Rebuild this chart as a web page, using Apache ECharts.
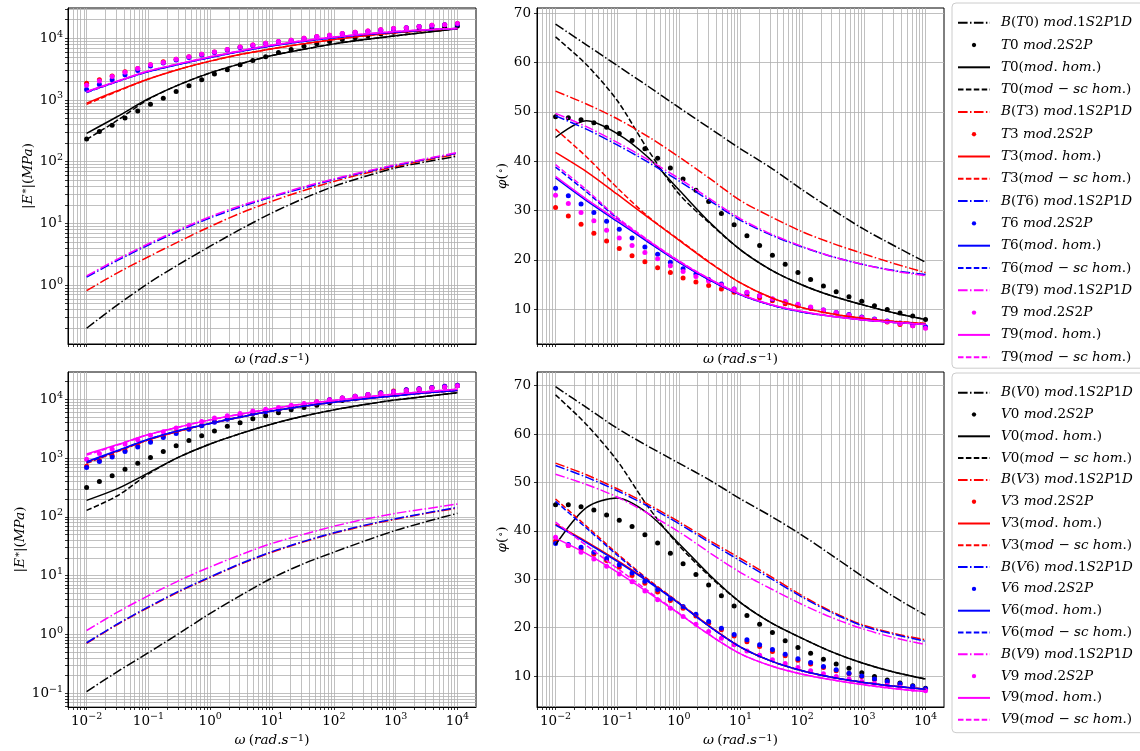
<!DOCTYPE html>
<html><head><meta charset="utf-8">
<script src="https://cdn.jsdelivr.net/npm/echarts@6/dist/echarts.min.js"></script>
<style>html,body{margin:0;padding:0;background:#fff}#c{width:1140px;height:751px}</style>
</head><body><div id="c"></div>
<script>
// angular frequencies (rad/s)
const W = [0.01, 0.0161, 0.0259, 0.0418, 0.0672, 0.108, 0.174, 0.281, 0.452, 0.728, 1.17, 1.89, 3.04, 4.89, 7.88, 12.7, 20.4, 32.9, 53.0, 85.3, 137, 221, 356, 574, 924, 1487, 2395, 3857, 6210, 10000];
const WL = [0.01, 0.0316, 0.1, 0.316, 1, 3.16, 10, 31.6, 100, 316, 1000, 3162, 10000];
const xLabelVals = [0.01, 0.1, 1, 10, 100, 1000, 10000];
const yLabelValsTop = [1, 10, 100, 1000, 10000];
const yLabelValsBot = [0.1, 1, 10, 100, 1000, 10000];
const phiLabelVals = [10, 20, 30, 40, 50, 60, 70];

// ---- top-left |E*| (T) ----
const tlB0 = [0.200, 0.479, 1.07, 2.19, 4.27, 8.13, 14.8, 25.1, 39.8, 57.5, 79.4, 100, 123];
const tlD0 = [234, 309, 389, 513, 661, 851, 1072, 1380, 1698, 2138, 2630, 3090, 3715, 4365, 5012, 5888, 6607, 7413, 8128, 8913, 9550, 10233, 10965, 11749, 12589, 13183, 13804, 14454, 15136, 15849];
const tlH0 = [288, 540, 1047, 1778, 2754, 3890, 5248, 6607, 8128, 9550, 10965, 12589, 14300];
const tlS0 = [229, 470, 1023, 1778, 2754, 3890, 5248, 6607, 8128, 9550, 10965, 12589, 14300];
const tlB3 = [0.813, 1.58, 2.88, 5.13, 8.91, 14.8, 22.9, 33.9, 47.9, 64.6, 83.2, 107, 132];
const tlD3 = [1862, 2138, 2455, 2884, 3236, 3715, 4169, 4571, 5012, 5495, 6026, 6607, 7244, 7762, 8318, 8913, 9333, 10000, 10715, 11220, 12023, 12589, 13183, 13804, 14454, 14791, 15488, 16218, 16596, 17378];
const tlH3 = [891, 1413, 2188, 3162, 4266, 5495, 6761, 8128, 9550, 10965, 12303, 13490, 14454];
const tlS3 = [851, 1380, 2188, 3162, 4266, 5495, 6761, 8128, 9550, 10965, 12303, 13490, 14454];
const tlB6 = [1.35, 2.51, 4.47, 7.59, 12.3, 18.6, 26.9, 37.2, 51.3, 67.6, 87.1, 110, 138];
const tlD6 = [1479, 1778, 2138, 2570, 3020, 3548, 3981, 4467, 4898, 5370, 5888, 6457, 7079, 7586, 8128, 8710, 9120, 9772, 10471, 10965, 11749, 12303, 12882, 13490, 14125, 14791, 15488, 15849, 16596, 16982];
const tlH6 = [1349, 1995, 2884, 3802, 4898, 6166, 7586, 8913, 10233, 11482, 12589, 13646, 14454];
const tlS6 = [1318, 1995, 2884, 3802, 4898, 6166, 7586, 8913, 10233, 11482, 12589, 13646, 14454];
const tlB9 = [1.41, 2.63, 4.68, 7.94, 12.9, 19.5, 27.5, 38.9, 52.5, 69.2, 89.1, 112, 141];
const tlD9 = [1738, 2042, 2399, 2818, 3236, 3715, 4074, 4571, 5012, 5495, 6026, 6607, 7244, 7762, 8318, 8913, 9333, 10000, 10715, 11220, 12023, 12589, 13183, 13804, 14454, 14791, 15488, 16218, 16596, 17378];
const tlH9 = [1380, 2042, 2951, 3890, 5012, 6310, 7762, 9120, 10471, 11749, 12882, 13804, 14454];
const tlS9 = [1349, 1995, 2951, 3890, 5012, 6310, 7762, 9120, 10471, 11749, 12882, 13804, 14454];

// ---- top-right phase (T) ----
const trB0 = [67.8, 63.6, 59.4, 55.2, 50.9, 46.7, 42.5, 38.6, 34.2, 30.1, 26.2, 22.8, 19.5];
const trD0 = [49.0, 48.8, 48.4, 47.8, 46.9, 45.6, 44.2, 42.5, 40.6, 38.6, 36.4, 34.1, 31.8, 29.4, 27.1, 24.9, 22.9, 20.9, 19.1, 17.4, 16.0, 14.7, 13.5, 12.5, 11.6, 10.7, 9.9, 9.2, 8.6, 7.9];
const trH0 = [44.8, 48.2, 45.6, 40.8, 34.2, 27.6, 22.0, 17.9, 14.9, 12.6, 10.8, 9.2, 7.9];
const trS0 = [65.2, 59.6, 52.3, 42.3, 33.4, 27.4, 22.0, 17.9, 14.9, 12.6, 10.8, 9.2, 7.9];
const trB3 = [54.2, 51.6, 48.6, 45.0, 40.9, 36.5, 32.0, 28.7, 25.7, 23.3, 21.2, 19.2, 17.4];
const trD3 = [30.6, 28.9, 27.2, 25.4, 23.8, 22.3, 20.8, 19.6, 18.4, 17.4, 16.3, 15.5, 14.8, 14.1, 13.4, 12.8, 12.3, 11.7, 11.1, 10.7, 10.1, 9.6, 9.2, 8.8, 8.3, 7.9, 7.4, 6.9, 6.6, 6.2];
const trH3 = [41.8, 37.9, 33.3, 28.6, 24.0, 19.4, 15.3, 12.3, 10.3, 9.0, 8.1, 7.5, 7.1];
const trS3 = [46.5, 40.9, 34.6, 28.8, 24.1, 19.5, 15.3, 12.3, 10.3, 9.0, 8.1, 7.5, 7.1];
const trB6 = [49.2, 46.5, 43.3, 39.8, 36.0, 32.0, 28.0, 25.0, 22.6, 20.6, 19.0, 17.8, 17.0];
const trD6 = [34.5, 33.0, 31.3, 29.6, 27.8, 26.2, 24.4, 22.6, 21.1, 19.5, 18.2, 17.1, 16.0, 15.1, 14.1, 13.3, 12.7, 12.0, 11.5, 10.9, 10.3, 9.8, 9.3, 8.9, 8.4, 8.0, 7.6, 7.2, 6.9, 6.4];
const trH6 = [36.6, 32.0, 27.8, 23.6, 19.5, 15.9, 12.9, 10.8, 9.4, 8.5, 7.8, 7.3, 6.9];
const trS6 = [38.8, 33.8, 28.4, 23.7, 19.6, 15.9, 12.9, 10.8, 9.4, 8.5, 7.8, 7.3, 6.9];
const trB9 = [49.7, 47.0, 43.8, 40.3, 36.5, 32.4, 28.3, 25.2, 22.7, 20.6, 19.0, 17.7, 16.8];
const trD9 = [33.1, 31.4, 29.6, 27.9, 26.0, 24.4, 22.9, 21.5, 20.2, 18.8, 17.6, 16.6, 15.7, 14.9, 14.1, 13.4, 12.7, 12.1, 11.5, 11.0, 10.4, 9.8, 9.3, 8.8, 8.3, 7.9, 7.5, 7.1, 6.6, 6.1];
const trH9 = [36.9, 32.3, 28.1, 23.9, 19.7, 16.1, 13.0, 10.9, 9.5, 8.5, 7.8, 7.3, 6.9];
const trS9 = [39.3, 34.2, 28.6, 24.0, 19.8, 16.1, 13.0, 10.9, 9.5, 8.5, 7.8, 7.3, 6.9];

// ---- bottom-left |E*| (V) ----
const blB0 = [0.107, 0.234, 0.490, 1.05, 2.29, 4.68, 9.12, 15.8, 25.1, 38.9, 58.9, 83.2, 115];
const blD0 = [316, 398, 501, 646, 813, 1023, 1288, 1622, 1995, 2399, 2884, 3467, 3981, 4677, 5248, 5888, 6607, 7244, 7943, 8710, 9550, 10233, 11220, 11749, 12589, 13490, 14454, 15488, 16218, 16982];
const blH0 = [191, 302, 562, 1047, 1738, 2630, 3802, 5129, 6607, 8128, 9772, 11220, 12882];
const blS0 = [129, 229, 537, 1047, 1738, 2630, 3802, 5129, 6607, 8128, 9772, 11220, 12882];
const blB3 = [0.708, 1.48, 2.88, 5.37, 9.33, 15.8, 25.1, 37.2, 52.5, 70.8, 91.2, 115, 141];
const blD3 = [724, 912, 1096, 1349, 1622, 1950, 2344, 2754, 3162, 3631, 4169, 4677, 5248, 5754, 6310, 6918, 7586, 8318, 9120, 9772, 10471, 11220, 12023, 12882, 13804, 14454, 15136, 15849, 16596, 17378];
const blH3 = [851, 1318, 2042, 2884, 3890, 5012, 6310, 7586, 8913, 10233, 11482, 12882, 14125];
const blS3 = [813, 1288, 2042, 2884, 3890, 5012, 6310, 7586, 8913, 10233, 11482, 12882, 14125];
const blB6 = [0.724, 1.51, 2.95, 5.50, 9.55, 16.2, 25.7, 38.0, 53.7, 72.4, 93.3, 117, 145];
const blD6 = [692, 871, 1047, 1288, 1549, 1862, 2239, 2630, 3090, 3548, 4074, 4571, 5248, 5754, 6166, 6761, 7413, 8128, 8913, 9772, 10471, 11220, 12023, 12882, 13490, 14454, 15136, 15849, 16596, 17378];
const blH6 = [871, 1349, 2089, 2951, 3890, 5012, 6310, 7586, 8913, 10233, 11482, 12882, 14125];
const blS6 = [832, 1318, 2089, 2951, 3890, 5012, 6310, 7586, 8913, 10233, 11482, 12882, 14125];
const blB9 = [1.17, 2.40, 4.57, 8.32, 14.1, 22.9, 35.5, 50.1, 69.2, 91.2, 115, 138, 166];
const blD9 = [955, 1202, 1413, 1738, 2042, 2455, 2818, 3236, 3631, 4169, 4786, 5248, 5754, 6310, 6761, 7244, 7943, 8511, 9120, 9772, 10471, 11220, 12023, 12589, 13490, 14125, 14791, 15488, 16218, 16982];
const blH9 = [1175, 1698, 2512, 3388, 4467, 5623, 6918, 8318, 9550, 10965, 12303, 13490, 14791];
const blS9 = [1122, 1660, 2512, 3388, 4467, 5623, 6918, 8318, 9550, 10965, 12303, 13490, 14791];

// ---- bottom-right phase (V) ----
const brB0 = [69.8, 65.5, 61.2, 57.5, 54.0, 50.5, 46.6, 43.0, 39.1, 34.8, 30.4, 26.3, 22.6];
const brD0 = [45.4, 45.4, 45.0, 44.3, 43.3, 42.2, 40.9, 39.2, 37.5, 35.4, 33.2, 31.0, 28.8, 26.6, 24.5, 22.5, 20.7, 19.0, 17.3, 15.9, 14.7, 13.5, 12.5, 11.6, 10.7, 9.9, 9.2, 8.6, 8.0, 7.5];
const brH0 = [37.1, 44.8, 46.8, 43.6, 37.4, 30.9, 25.2, 21.0, 17.8, 14.9, 12.6, 10.8, 9.4];
const brS0 = [68.1, 62.0, 54.5, 45.0, 37.0, 30.6, 25.2, 21.0, 17.8, 14.9, 12.6, 10.8, 9.4];
const brB3 = [54.0, 51.6, 48.7, 45.5, 41.9, 38.0, 34.3, 30.5, 26.6, 23.2, 20.5, 18.8, 17.5];
const brD3 = [37.9, 37.0, 36.2, 35.2, 33.9, 32.5, 30.8, 29.2, 27.4, 25.6, 24.0, 22.4, 20.9, 19.6, 18.3, 17.1, 16.1, 15.1, 14.2, 13.3, 12.5, 11.8, 11.1, 10.5, 9.9, 9.3, 8.8, 8.3, 7.8, 7.3];
const brH3 = [41.4, 37.8, 33.9, 29.7, 25.1, 20.3, 16.0, 13.1, 11.1, 9.7, 8.7, 7.9, 7.3];
const brS3 = [46.6, 41.0, 35.3, 30.0, 25.2, 20.3, 16.0, 13.1, 11.1, 9.7, 8.7, 7.9, 7.3];
const brB6 = [53.5, 51.1, 48.3, 45.1, 41.5, 37.6, 33.8, 30.1, 26.3, 23.0, 20.3, 18.6, 17.2];
const brD6 = [37.4, 37.2, 36.6, 35.6, 34.3, 33.0, 31.3, 29.6, 27.9, 26.0, 24.4, 22.8, 21.3, 19.9, 18.6, 17.5, 16.5, 15.5, 14.5, 13.6, 12.8, 12.0, 11.3, 10.6, 10.0, 9.4, 8.9, 8.4, 7.9, 7.4];
const brH6 = [41.2, 37.6, 33.7, 29.5, 25.0, 20.2, 16.0, 13.1, 11.1, 9.7, 8.7, 7.9, 7.3];
const brS6 = [46.1, 40.6, 35.0, 29.8, 25.1, 20.2, 16.0, 13.1, 11.1, 9.7, 8.7, 7.9, 7.3];
const brB9 = [51.7, 49.6, 47.0, 43.6, 39.8, 35.5, 31.4, 28.0, 24.8, 22.0, 19.7, 17.9, 16.5];
const brD9 = [38.7, 37.0, 35.6, 34.2, 32.7, 31.1, 29.5, 27.6, 25.8, 24.0, 22.3, 20.7, 19.2, 17.8, 16.5, 15.2, 14.3, 13.4, 12.6, 11.8, 11.1, 10.5, 9.9, 9.4, 8.9, 8.5, 8.1, 7.7, 7.3, 7.0];
const brH9 = [38.5, 35.3, 31.5, 27.3, 22.9, 18.5, 14.6, 12.1, 10.4, 9.2, 8.2, 7.4, 6.8];
const brS9 = [41.8, 37.0, 32.3, 27.6, 23.0, 18.5, 14.6, 12.1, 10.4, 9.2, 8.2, 7.4, 6.8];

const mats = ['0', '3', '6', '9'];
const colors = ['#000000', '#ff0000', '#0000ff', '#ff00ff'];

const panels = [
  {p: 'T', B: [tlB0, tlB3, tlB6, tlB9], D: [tlD0, tlD3, tlD6, tlD9], H: [tlH0, tlH3, tlH6, tlH9], S: [tlS0, tlS3, tlS6, tlS9]},
  {p: 'T', B: [trB0, trB3, trB6, trB9], D: [trD0, trD3, trD6, trD9], H: [trH0, trH3, trH6, trH9], S: [trS0, trS3, trS6, trS9]},
  {p: 'V', B: [blB0, blB3, blB6, blB9], D: [blD0, blD3, blD6, blD9], H: [blH0, blH3, blH6, blH9], S: [blS0, blS3, blS6, blS9]},
  {p: 'V', B: [brB0, brB3, brB6, brB9], D: [brD0, brD3, brD6, brD9], H: [brH0, brH3, brH6, brH9], S: [brS0, brS3, brS6, brS9]}
];

const SERIF = 'DejaVu Serif';
const DASH = [5.5, 2.4];
const DASHDOT = [9.6, 2.4, 1.5, 2.4];
const dotIcon = 'path://M0,0L0,0M32,14L32,14M18.2,7L17.6,8.6L16,9.2L14.4,8.6L13.8,7L14.4,5.4L16,4.8L17.6,5.4Z';

const names = (p, m) => ({
  B: 'B(' + p + m + ') mod.1S2P1D',
  D: p + m + ' mod.2S2P',
  H: p + m + '(mod. hom.)',
  S: p + m + '(mod \u2212 sc hom.)'
});

function pairs(xs, ys) { return ys.map((y, i) => [xs[i], y]); }

const series = [];
panels.forEach((pn, gi) => {
  mats.forEach((m, k) => {
    const nm = names(pn.p, m), c = colors[k];
    const ln = (name, ys, type) => ({
      type: 'line', name, xAxisIndex: gi, yAxisIndex: gi, data: pairs(WL, ys),
      symbol: 'none', smooth: 0.3, silent: true, animation: false,
      lineStyle: {color: c, width: 1.5, type: type}, itemStyle: {color: c}
    });
    series.push(ln(nm.B, pn.B[k], DASHDOT));
    series.push({
      type: 'scatter', name: nm.D, xAxisIndex: gi, yAxisIndex: gi, data: pairs(W, pn.D[k]),
      symbol: 'circle', symbolSize: 5, silent: true, animation: false, itemStyle: {color: c, opacity: 1}
    });
    series.push(ln(nm.H, pn.H[k], 'solid'));
    series.push(ln(nm.S, pn.S[k], DASH));
  });
});

const hideSym = {opacity: 0, color: 'rgba(0,0,0,0)', borderWidth: 0};
function legendData(p) {
  const out = [];
  mats.forEach(m => {
    const nm = names(p, m);
    out.push({name: nm.B, itemStyle: hideSym}, {name: nm.D, icon: dotIcon},
             {name: nm.H, itemStyle: hideSym}, {name: nm.S, itemStyle: hideSym});
  });
  return out;
}

function toRich(s) {
  return s.replace(/([A-Za-z]+)|([^A-Za-z]+)/g, (a, l, o) => l ? '{i|' + l + '}' : '{r|' + o + '}');
}

const rich = {
  i: {fontFamily: SERIF, fontStyle: 'italic', fontSize: 13.5, color: '#000'},
  r: {fontFamily: SERIF, fontSize: 13.5, color: '#000'},
  s: {fontFamily: SERIF, fontSize: 10, color: '#000', verticalAlign: 'top', padding: [0, 0, 0, 1]}
};

function decadeTicks(lo, hi) {
  const t = [];
  for (let e = -3; e <= 5; e++) for (let m = 1; m <= 9; m++) {
    const v = +(m * Math.pow(10, e)).toPrecision(6);
    if (v >= lo && v <= hi) t.push(v);
  }
  return t;
}
const pow10Label = v => {
  const e = Math.round(Math.log10(v));
  return '{b|10}{s|' + (e < 0 ? '\u2212' + (-e) : e) + '}';
};
const labRich = {
  b: {fontFamily: SERIF, fontSize: 13.5, color: '#000', lineHeight: 18},
  s: {fontFamily: SERIF, fontSize: 9.5, color: '#000', verticalAlign: 'top', lineHeight: 12}
};

const xMin = 0.005, xMax = 19950;
const xTicks = decadeTicks(xMin, xMax);
const gridLine = {show: true, lineStyle: {color: '#b0b0b0', width: 0.8}};
const omegaName = '{i|\u03c9} {r|(}{i|rad.s}{s|\u22121}{r|)}';

function xAxis(gi, showLabels, gap) {
  return {
    type: 'log', logBase: 10, gridIndex: gi, min: xMin, max: xMax,
    axisLine: {onZero: false, lineStyle: {color: '#000', width: 1}},
    axisTick: {show: true, inside: false, length: 3, customValues: xTicks, lineStyle: {color: '#000', width: 0.8}},
    axisLabel: {show: showLabels, customValues: xLabelVals, margin: 5, formatter: pow10Label, rich: labRich},
    splitLine: gridLine,
    name: omegaName, nameLocation: 'middle', nameGap: gap,
    nameTextStyle: {rich: rich}
  };
}
function yLogAxis(gi, lo, hi, labels) {
  return {
    type: 'log', logBase: 10, gridIndex: gi, min: lo, max: hi,
    axisLine: {onZero: false, lineStyle: {color: '#000', width: 1}},
    axisTick: {show: true, inside: false, length: 3, customValues: decadeTicks(lo, hi), lineStyle: {color: '#000', width: 0.8}},
    axisLabel: {customValues: labels, margin: 5, formatter: pow10Label, rich: labRich},
    splitLine: gridLine,
    name: '{r||}{i|E}{s|*}{r||(}{i|MPa}{r|)}', nameLocation: 'middle', nameGap: 30, nameRotate: 90,
    nameTextStyle: {rich: rich}
  };
}
function yPhiAxis(gi, lo, hi) {
  return {
    type: 'value', gridIndex: gi, min: lo, max: hi,
    axisLine: {onZero: false, lineStyle: {color: '#000', width: 1}},
    axisTick: {show: true, inside: false, length: 3, customValues: phiLabelVals, lineStyle: {color: '#000', width: 0.8}},
    axisLabel: {customValues: phiLabelVals, margin: 6, fontFamily: SERIF, fontSize: 13.5, color: '#000'},
    splitLine: gridLine,
    name: '{i|\u03c6}{r|(}{s|\u2218}{r|)}', nameLocation: 'middle', nameGap: 26, nameRotate: 90,
    nameTextStyle: {rich: rich}
  };
}

const gridBox = {show: true, borderColor: '#000', borderWidth: 1, backgroundColor: 'transparent', containLabel: false};

function legend(top, padTop, padBot, gap, p) {
  return {
    orient: 'vertical', left: 952, top: top, itemWidth: 32, itemHeight: 14, itemGap: gap,
    padding: [padTop, 60, padBot, 5], borderColor: '#cccccc', borderWidth: 1, borderRadius: 4,
    backgroundColor: 'rgba(255,255,255,0.8)', selectedMode: false,
    lineStyle: {width: 2},
    textStyle: {fontFamily: SERIF, fontSize: 13.5, color: '#000', padding: [0, 0, 0, 6], rich: rich},
    formatter: toRich, data: legendData(p)
  };
}

const option = {
  backgroundColor: '#ffffff',
  animation: false,
  grid: [
    Object.assign({left: 68, top: 8, width: 408, height: 336}, gridBox),
    Object.assign({left: 537, top: 8, width: 407, height: 336}, gridBox),
    Object.assign({left: 68, top: 372, width: 408, height: 335}, gridBox),
    Object.assign({left: 537, top: 372, width: 407, height: 335}, gridBox)
  ],
  xAxis: [xAxis(0, false, 8), xAxis(1, false, 8), xAxis(2, true, 26), xAxis(3, true, 26)],
  yAxis: [
    yLogAxis(0, 0.111, 31000, yLabelValsTop),
    yPhiAxis(1, 2.92, 71.07),
    yLogAxis(2, 0.0585, 29100, yLabelValsBot),
    yPhiAxis(3, 3.62, 72.83)
  ],
  legend: [legend(3, 12.7, 4, 8.3, 'T'), legend(373, 12.7, 6, 7.8, 'V')],
  series: series
};

const chart = echarts.init(document.getElementById('c'), null, {renderer: 'canvas'});
chart.setOption(option);
</script></body></html>
